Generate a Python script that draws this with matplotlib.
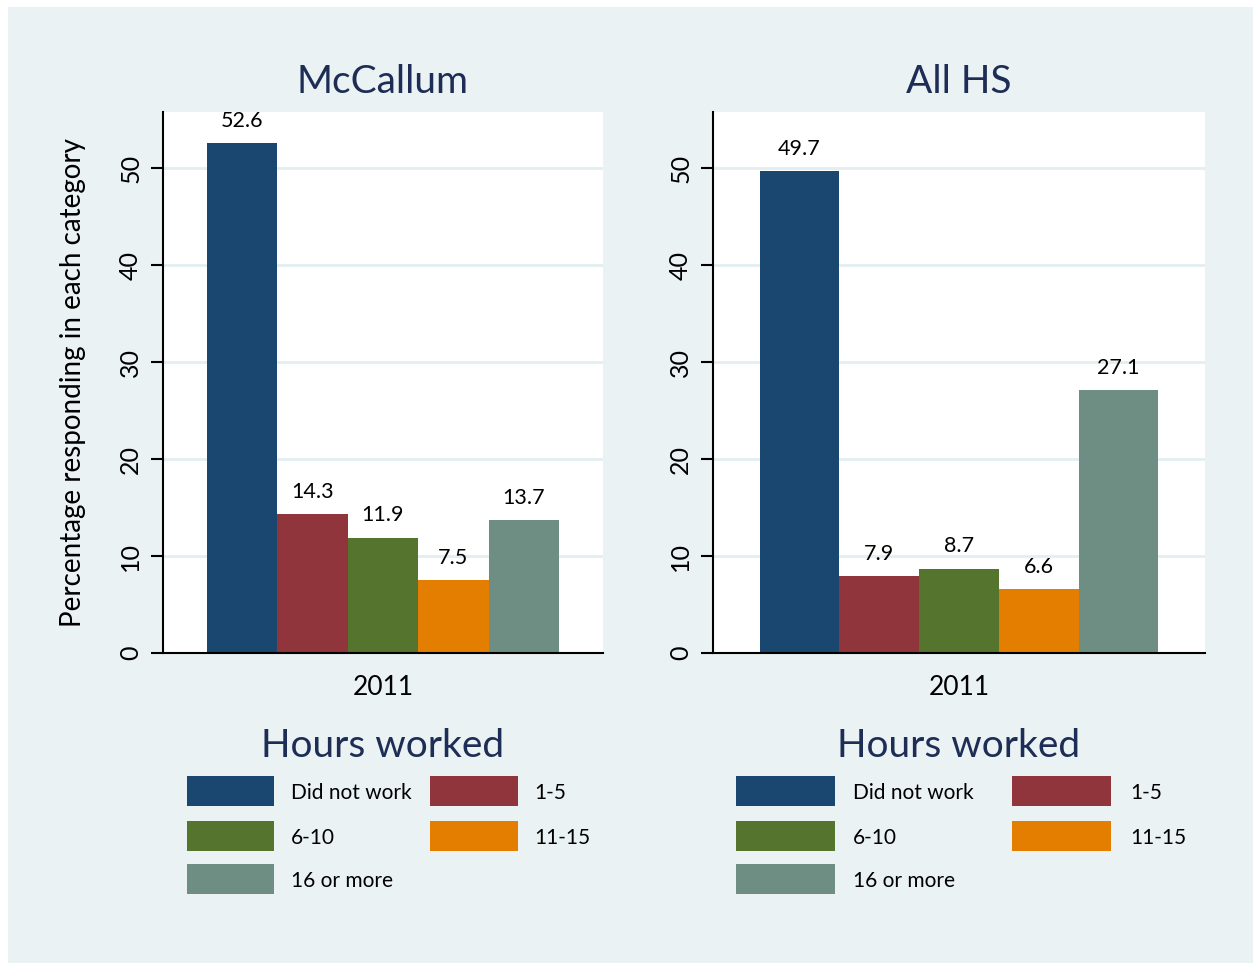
import matplotlib
matplotlib.use("Agg")
import matplotlib.pyplot as plt
from matplotlib.patches import Rectangle
import numpy as np

plt.rcParams['font.family'] = ['Lato', 'DejaVu Sans']

categories = ["Did not work", "1-5", "6-10", "11-15", "16 or more"]
panels = ["McCallum", "All HS"]
mccallum = [52.6, 14.3, 11.9, 7.5, 13.7]
all_hs = [49.7, 7.9, 8.7, 6.6, 27.1]
x_label = "2011"
y_label = "Percentage responding in each category"
legend_title = "Hours worked"
y_ticks = [0, 10, 20, 30, 40, 50]
colors = ["#1a476f", "#90353b", "#55752f", "#e37e00", "#6e8e84"]
title_color = "#1e2d55"
bg = "#eaf2f3"

W, H = 1253, 963
fig = plt.figure(figsize=(W / 100, H / 100), dpi=100)
fig.patch.set_facecolor("white")
fig.patches.append(Rectangle((8 / W, 0), 1 - 8 / W, 1 - 7 / H, transform=fig.transFigure,
                             facecolor=bg, edgecolor="none", zorder=-10))


def fx(px):
    return px / W


def fy(py):
    return 1 - py / H


ax_boxes = [(163, 603), (713, 1205)]
group_widths = [0.8, 0.81]
top, bot = 112, 653
legend_cfg = [
    dict(sw_x=[187, 430], sw_w=[87, 88], tx=[291, 534]),
    dict(sw_x=[736, 1012], sw_w=[99, 99], tx=[853, 1130]),
]
data = [mccallum, all_hs]

for i, (name, vals) in enumerate(zip(panels, data)):
    x0, x1 = ax_boxes[i]
    ax = fig.add_axes([fx(x0), fy(bot), fx(x1 - x0), (bot - top) / H])
    ax.set_facecolor("white")
    n = len(vals)
    group = group_widths[i]
    bw = group / n
    xs = -group / 2 + bw / 2 + bw * np.arange(n)
    ax.bar(xs, vals, width=bw, color=colors, edgecolor="none", zorder=3)
    for xx, v in zip(xs, vals):
        ax.annotate(f"{v:.1f}", (xx, v), xytext=(0, 9), textcoords="offset points",
                    ha="center", va="bottom", fontsize=15.5, color="black", zorder=4)
    ax.set_xlim(-0.5, 0.5)
    ax.set_ylim(0, 55.8)
    ax.set_xticks([0])
    ax.set_xticklabels([x_label], fontsize=19)
    ax.tick_params(axis="x", length=0, pad=16)
    ax.set_yticks(y_ticks)
    ax.set_yticklabels([str(t) for t in y_ticks], fontsize=18, rotation=90, va="center")
    ax.tick_params(axis="y", length=9, width=1.5, pad=6)
    for t in y_ticks[1:]:
        ax.axhline(t, color="#e3eef0", lw=2, zorder=1)
    for s in ["top", "right"]:
        ax.spines[s].set_visible(False)
    for s in ["left", "bottom"]:
        ax.spines[s].set_linewidth(1.5)
        ax.spines[s].set_color("black")
        ax.spines[s].set_zorder(5)
    cx = (x0 + x1) / 2
    fig.text(fx(cx), fy(82), name, ha="center", va="center", fontsize=28, color=title_color)
    fig.text(fx(cx), fy(746), legend_title, ha="center", va="center", fontsize=28,
             color=title_color)
    cfg = legend_cfg[i]
    rows = [791, 836, 879]
    for k, cat in enumerate(categories):
        r, c = divmod(k, 2)
        y = rows[r]
        sx = cfg["sw_x"][c]
        sw = cfg["sw_w"][c]
        fig.patches.append(Rectangle((fx(sx), fy(y + 15)), fx(sw), 30 / H,
                                     transform=fig.transFigure, facecolor=colors[k],
                                     edgecolor="none", zorder=2))
        fig.text(fx(cfg["tx"][c]), fy(y + 2), cat, ha="left", va="center", fontsize=15,
                 color="black")

fig.text(fx(73), fy(383), y_label, rotation=90, ha="center", va="center", fontsize=20,
         color="black")

fig.savefig("out.png", dpi=100, facecolor=fig.get_facecolor())
